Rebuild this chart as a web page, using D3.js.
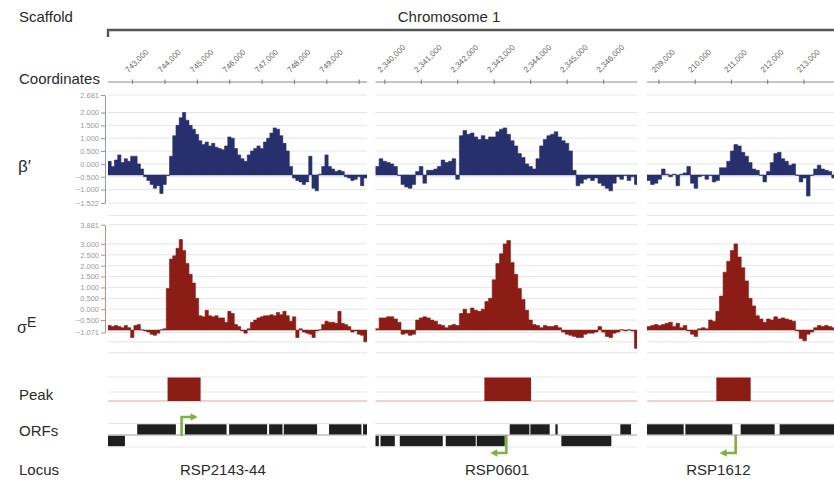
<!DOCTYPE html>
<html><head><meta charset="utf-8">
<script src="https://cdn.jsdelivr.net/npm/d3@7"></script>
<style>body{margin:0;background:#fff} svg{display:block;font-family:"Liberation Sans",Arial,sans-serif}</style>
</head><body><svg id="c" width="834" height="482"></svg>
<script>
// ---------------- DATA ----------------
const panelDomains = [[742240, 750240], [2339745, 2346915], [208669, 215900]];
const binSize = 100;
const coordTicks = [
  [743000, 744000, 745000, 746000, 747000, 748000, 749000, 750000],
  [2340000, 2341000, 2342000, 2343000, 2344000, 2345000, 2346000],
  [209000, 210000, 211000, 212000, 213000]
];
const unlabeledTicks = [750000];
const betaTicks = [2.681, 2.0, 1.5, 1.0, 0.5, 0.0, -0.5, -1.0, -1.522];
const sigmaTicks = [3.881, 3.0, 2.5, 2.0, 1.5, 1.0, 0.5, 0.0, -0.5, -1.071];
const sigmaExtraGrid = [4.3, -1.5, -2.0];
const betaBase = -0.43;
const sigmaBase = -0.96;

const betaP1 = [0.1,-0.1,0.15,0.35,0.05,0.2,0.1,0.3,0.3,0.0,-0.2,-0.5,-0.65,-0.8,-0.95,-0.85,-1.15,-0.8,-0.45,0.3,
  1.1,1.5,1.8,2.0,1.7,1.5,1.35,1.15,0.9,0.75,0.85,0.7,0.8,0.65,0.6,0.55,0.7,1.05,1.0,0.6,
  0.35,0.2,0.1,0.35,0.5,0.6,0.7,0.6,0.85,1.0,1.2,1.4,1.35,1.1,0.8,0.5,-0.1,-0.55,-0.65,-0.7,
  -0.8,-0.7,0.3,-0.95,-1.05,-0.4,-0.1,0.35,-0.1,-0.2,-0.3,-0.25,-0.3,-0.5,-0.55,-0.65,-0.6,-0.5,-0.85,-0.55];
const betaP2 = [-0.1,0.2,0.1,0.05,0.0,-0.1,-0.45,-0.8,-0.9,-0.95,-0.8,-0.3,-0.1,-0.75,-0.25,-0.25,-0.2,-0.1,0.15,0.05,
  0.1,0.2,-0.6,1.1,1.3,1.15,1.2,1.05,0.95,1.1,0.95,1.05,1.05,1.25,1.35,1.4,1.15,0.9,0.7,0.4,
  0.25,0.0,-0.1,-0.2,0.2,0.7,0.95,1.1,1.15,1.25,1.05,0.9,0.8,0.5,-0.25,-0.85,-0.75,-0.6,-0.55,-0.65,
  -0.55,-0.75,-0.85,-0.95,-1.05,-0.75,-0.5,-0.6,-0.45,-0.65,-0.5,-0.8];
const betaP3 = [-0.65,-0.8,-0.75,-0.6,-0.2,-0.4,-0.5,-0.4,-0.85,-0.4,-0.35,-0.1,-0.75,-0.95,-0.5,-0.45,-0.6,-0.45,-0.7,-0.65,
  -0.15,-0.15,0.1,0.5,0.75,0.7,0.45,0.3,0.05,-0.2,-0.25,-0.45,-0.7,-0.3,0.05,0.4,0.45,0.2,0.1,-0.05,
  0.0,-0.45,-0.7,-0.55,-1.25,-0.45,-0.2,-0.05,-0.2,-0.25,-0.3,-0.55,-0.3];

const sigmaP1 = [-0.75,-0.8,-0.75,-0.8,-0.85,-0.75,-0.85,-1.3,-0.75,-0.7,-0.95,-1.0,-1.05,-1.15,-1.2,-1.1,-0.95,-0.9,0.95,2.3,
  2.45,2.8,3.2,2.7,2.1,1.6,1.2,0.5,-0.3,-0.35,-0.05,-0.3,-0.35,-0.3,-0.4,-0.4,-0.6,-0.1,-0.2,-0.7,
  -0.8,-1.0,-1.1,-0.9,-0.6,-0.5,-0.4,-0.35,-0.3,-0.3,-0.25,-0.3,-0.15,-0.25,-0.1,-0.3,-0.55,-0.35,-1.3,-0.9,
  -1.05,-1.1,-1.15,-1.3,-1.0,-0.95,-0.7,-0.55,-0.6,-0.6,-0.65,-0.1,-0.65,-0.7,-0.8,-1.05,-1.0,-1.15,-1.2,-1.5];
const sigmaP2 = [-0.9,-0.4,-0.4,-0.35,-0.35,-0.45,-0.6,-1.15,-1.1,-1.2,-1.15,-0.5,-0.4,-0.35,-0.4,-0.5,-0.55,-0.7,-0.75,-0.85,
  -0.75,-0.7,-0.75,-0.2,0.0,-0.2,0.05,-0.05,-0.1,0.0,0.35,0.5,1.35,2.1,2.55,3.0,3.15,2.15,1.6,0.95,
  0.45,-0.05,-0.5,-0.7,-0.75,-0.85,-0.75,-0.8,-0.8,-0.75,-0.85,-1.05,-1.15,-1.2,-1.25,-1.3,-1.3,-1.15,-1.1,-1.1,
  -1.05,-0.8,-1.05,-1.25,-1.3,-1.1,-1.05,-0.95,-1.0,-0.95,-1.0,-1.8];
const sigmaP3 = [-0.8,-0.75,-0.7,-0.75,-0.7,-0.65,-0.6,-0.8,-0.65,-0.85,-0.75,-1.0,-1.15,-1.25,-0.9,-0.85,-0.9,-0.5,-0.55,-0.1,
  0.6,1.7,2.2,2.7,3.0,2.4,1.9,1.3,0.5,0.15,-0.3,-0.45,-0.6,-0.45,-0.5,-0.35,-0.45,-0.4,-0.45,-0.5,
  -0.55,-1.0,-1.35,-1.45,-1.15,-1.05,-0.85,-0.75,-0.8,-0.75,-0.8,-0.85,-0.8];

const peaks = [[744080, 745100], [2342730, 2344010], [210583, 211530]];
const orfPlus = [
  [[743142,744337],[744615,745902],[745982,747155],[747216,747630],[747670,748698],[749068,750068],[750118,750800]],
  [[2343425,2343964],[2343992,2344521],[2344677,2344740],[2346458,2346751]],
  [[208500,209681],[209728,211025],[211254,212192],[212330,214500]]
];
const orfMinus = [
  [[741800,742763]],
  [[2339500,2339836],[2339882,2340274],[2340411,2341589],[2341671,2342493],[2342521,2343288],[2344841,2346211]],
  []
];
const tss = [{pos: 744513, strand: "+"}, {pos: 2343332, strand: "-"}, {pos: 211116, strand: "-"}];
const loci = [{name: "RSP2143-44", pos: 745787}, {name: "RSP0601", pos: 2343079}, {name: "RSP1612", pos: 210639}];
const rowLabels = ["Scaffold", "Coordinates", "Peak", "ORFs", "Locus"];
const scaffoldName = "Chromosome 1";

// ---------------- DRAW ----------------
const svg = d3.select("#c");
const panelRanges = [[108, 367], [375.5, 637], [647, 909]];
const xs = panelDomains.map((d, i) => d3.scaleLinear().domain(d).range(panelRanges[i]));
const betaY = d3.scaleLinear().domain([-1.522, 2.681]).range([203, 95]);
const sigmaY = d3.scaleLinear().domain([-1.071, 3.881]).range([332.5, 224.7]);
const betaSeries = [betaP1, betaP2, betaP3];
const sigmaSeries = [sigmaP1, sigmaP2, sigmaP3];
const textCol = "#2a2a2a";
const gridCol = "#e6e6e6";
const navy = "#27306c";
const red = "#8c1d16";
const green = "#7cb342";
const defs = svg.append("defs");

// Left labels
const labelY = {Scaffold: 22, Coordinates: 84, Peak: 400, ORFs: 436, Locus: 475};
rowLabels.forEach(l => svg.append("text").attr("x", 19).attr("y", labelY[l])
  .attr("font-size", 15).attr("fill", textCol).text(l));
svg.append("text").attr("x", 18).attr("y", 172).attr("font-size", 17).attr("fill", textCol).text("β′");
const sg = svg.append("text").attr("x", 17).attr("y", 333).attr("fill", textCol);
sg.append("tspan").attr("font-size", 16).text("σ");
sg.append("tspan").attr("font-size", 14).attr("dy", -6).text("E");

// Scaffold line
svg.append("path").attr("d", `M${panelRanges[0][0]},37V30H834`).attr("fill", "none")
  .attr("stroke", "#555").attr("stroke-width", 2.4);
svg.append("text").attr("x", 449).attr("y", 22).attr("text-anchor", "middle")
  .attr("font-size", 15).attr("fill", textCol).text(scaffoldName);

const fmtCoord = d3.format(",");
xs.forEach((x, p) => {
  const [x0, x1] = x.range();
  const g = svg.append("g");
  defs.append("clipPath").attr("id", "clip" + p).append("rect")
    .attr("x", x0).attr("y", 0).attr("width", x1 - x0).attr("height", 482);

  // coordinate axis
  g.append("line").attr("x1", x0).attr("x2", x1).attr("y1", 82).attr("y2", 82).attr("stroke", "#8a8a8a").attr("stroke-width", 1);
  coordTicks[p].forEach(t => {
    const tx = x(t);
    g.append("line").attr("x1", tx).attr("x2", tx).attr("y1", 79.5).attr("y2", 84).attr("stroke", "#777");
    if (!unlabeledTicks.includes(t))
      g.append("text").attr("transform", `translate(${tx - 4},73) rotate(-45)`)
        .attr("font-size", 8).attr("fill", "#666").text(fmtCoord(t));
  });

  // gridlines
  betaTicks.forEach(v => g.append("line").attr("x1", x0).attr("x2", x1)
    .attr("y1", betaY(v)).attr("y2", betaY(v)).attr("stroke", gridCol));
  sigmaTicks.concat(sigmaExtraGrid).forEach(v => g.append("line").attr("x1", x0).attr("x2", x1)
    .attr("y1", sigmaY(v)).attr("y2", sigmaY(v)).attr("stroke", gridCol));

  const start = panelDomains[p][0];
  const stepPts = arr => arr.map((v, i) => [start + i * binSize, v]).concat([[start + arr.length * binSize, arr[arr.length - 1]]]);
  const area = (yS, base) => d3.area().curve(d3.curveStepAfter)
    .x(d => x(d[0])).y0(yS(base)).y1(d => yS(d[1]));
  const cg = g.append("g").attr("clip-path", `url(#clip${p})`);
  cg.append("path").attr("d", area(betaY, betaBase)(stepPts(betaSeries[p]))).attr("fill", navy)
    .attr("stroke", navy).attr("stroke-width", 0.6);
  cg.append("path").attr("d", area(sigmaY, sigmaBase)(stepPts(sigmaSeries[p]))).attr("fill", red)
    .attr("stroke", red).attr("stroke-width", 0.6);

  // Peak row
  g.append("line").attr("x1", x0).attr("x2", x1).attr("y1", 377).attr("y2", 377).attr("stroke", gridCol);
  g.append("line").attr("x1", x0).attr("x2", x1).attr("y1", 392).attr("y2", 392).attr("stroke", gridCol);
  g.append("line").attr("x1", x0).attr("x2", x1).attr("y1", 401).attr("y2", 401).attr("stroke", "#dca5a0");
  g.append("rect").attr("x", x(peaks[p][0])).attr("width", x(peaks[p][1]) - x(peaks[p][0]))
    .attr("y", 377.5).attr("height", 23.5).attr("fill", red);

  // ORF row
  g.append("line").attr("x1", x0).attr("x2", x1).attr("y1", 423.5).attr("y2", 423.5).attr("stroke", gridCol);
  g.append("line").attr("x1", x0).attr("x2", x1).attr("y1", 447).attr("y2", 447).attr("stroke", gridCol);
  g.append("line").attr("x1", x0).attr("x2", x1).attr("y1", 435).attr("y2", 435).attr("stroke", "#a0a0a0").attr("stroke-width", 1.2);
  cg.append("g").selectAll("rect").data(orfPlus[p]).join("rect")
    .attr("x", d => x(d[0])).attr("width", d => x(d[1]) - x(d[0]))
    .attr("y", 424.3).attr("height", 10.4).attr("fill", "#1e1e1e");
  cg.append("g").selectAll("rect").data(orfMinus[p]).join("rect")
    .attr("x", d => x(d[0])).attr("width", d => x(d[1]) - x(d[0]))
    .attr("y", 435.7).attr("height", 10.6).attr("fill", "#1e1e1e");

  // TSS arrow
  const t = tss[p], ax = x(t.pos);
  if (t.strand === "+") {
    g.append("path").attr("d", `M${ax},436V417H${ax + 10}`).attr("fill", "none").attr("stroke", green).attr("stroke-width", 2.6);
    g.append("path").attr("d", `M${ax + 9},413.3L${ax + 16},417L${ax + 9},420.7Z`).attr("fill", green);
  } else {
    g.append("path").attr("d", `M${ax},435V453H${ax - 10}`).attr("fill", "none").attr("stroke", green).attr("stroke-width", 2.6);
    g.append("path").attr("d", `M${ax - 9},449.3L${ax - 16},453L${ax - 9},456.7Z`).attr("fill", green);
  }

  // Locus
  g.append("text").attr("x", x(loci[p].pos)).attr("y", 475).attr("text-anchor", "middle")
    .attr("font-size", 15).attr("fill", textCol).text(loci[p].name);
});

// Y axes (first panel only)
function yAxis(scale, ticks, color) {
  const a = svg.append("g").attr("transform", "translate(105,0)")
    .call(d3.axisLeft(scale).tickValues(ticks).tickFormat(d3.format(".3f")).tickSize(4).tickSizeOuter(0));
  a.select(".domain").attr("stroke", color);
  a.selectAll(".tick line").attr("stroke", color);
  a.selectAll(".tick text").attr("fill", "#9a9a9a").attr("font-size", 7.5)
    .attr("font-family", '"Liberation Sans",Arial,sans-serif').attr("x", -6);
}
yAxis(betaY, betaTicks, "#8f95c4");
yAxis(sigmaY, sigmaTicks, "#cf8a84");
</script></body></html>
